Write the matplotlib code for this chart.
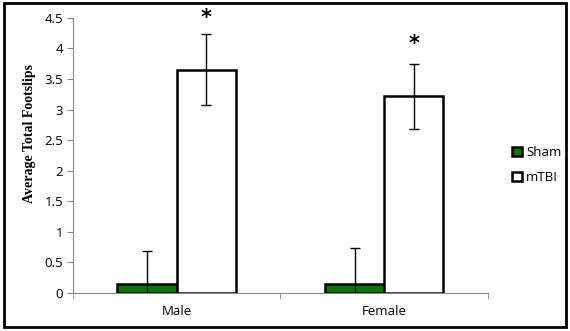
import matplotlib
matplotlib.use('Agg')
import matplotlib.pyplot as plt
import numpy as np
from matplotlib.patches import Rectangle

groups = ['Male', 'Female']
sham = [0.15, 0.15]
sham_err = [0.53, 0.58]
mtbi = [3.65, 3.22]
mtbi_err = [0.58, 0.53]
star_y = [4.5, 4.08]

fig = plt.figure(figsize=(5.7, 3.31), dpi=100)
ax = fig.add_axes([0.128, 0.115, 0.728, 0.831])

x = np.arange(len(groups))
w = 1 / 3.5
ax.bar(x - w / 2, sham, w, yerr=sham_err, color='#007a00', edgecolor='black',
       linewidth=1.8, label='Sham', error_kw=dict(elinewidth=1, capsize=3.5, capthick=1))
ax.bar(x + w / 2, mtbi, w, yerr=mtbi_err, color='white', edgecolor='black',
       linewidth=1.8, label='mTBI', error_kw=dict(elinewidth=1, capsize=3.5, capthick=1))
for xi, sy in zip(x, star_y):
    ax.text(xi + w / 2, sy, '*', ha='center', va='center', fontsize=15,
            fontweight='bold', clip_on=False)

ax.set_xlim(-0.5, 1.5)
ax.set_ylim(0, 4.5)
ax.set_yticks(np.arange(0, 4.6, 0.5))
ax.set_yticklabels(['0', '0.5', '1', '1.5', '2', '2.5', '3', '3.5', '4', '4.5'])
ax.set_xticks(x)
ax.set_xticklabels(groups)
ax.set_xticks([-0.5, 0.5, 1.5], minor=True)
ax.tick_params(axis='x', which='major', length=0, pad=9, labelsize=9.5)
ax.tick_params(axis='x', which='minor', length=4, color='#888888', direction='out')
ax.tick_params(axis='y', length=4, color='#888888', labelsize=9.5, pad=3)
for lab in ax.get_xticklabels() + ax.get_yticklabels():
    lab.set_family('Open Sans')
for s in ['top', 'right']:
    ax.spines[s].set_visible(False)
for s in ['left', 'bottom']:
    ax.spines[s].set_color('#888888')
ax.set_ylabel('Average Total Footslips', fontsize=10, fontweight='bold',
              family='Liberation Serif')
ax.yaxis.set_label_coords(-0.09, 0.58)

leg = ax.legend(loc='center left', bbox_to_anchor=(1.03, 0.465), frameon=False,
                prop={'family': 'Open Sans', 'size': 9.5}, handlelength=0.75,
                handleheight=0.75, handletextpad=0.3, labelspacing=0.9)

fig.patches.append(Rectangle((0.007, 0.012), 0.986, 0.978, transform=fig.transFigure,
                             fill=False, edgecolor='black', linewidth=2))

fig.savefig('out.png', dpi=100, facecolor='white')
